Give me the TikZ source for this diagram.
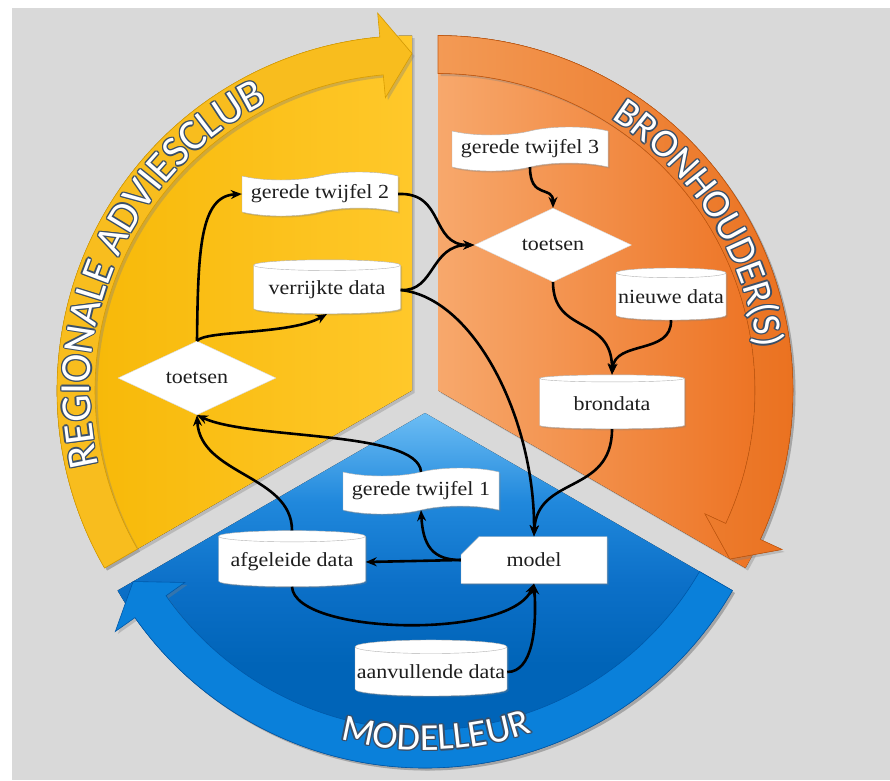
\documentclass[tikz,border=0pt]{standalone}
\usepackage{fontspec}
\setmainfont{Liberation Serif}[FakeStretch=1.1]
\newfontfamily\titlefont{Carlito}
\usetikzlibrary{shapes.geometric,shapes.symbols,shapes.misc,arrows.meta,decorations.text,shadows}
\definecolor{bg}{HTML}{D9D9D9}
\definecolor{ylA}{HTML}{F5B500}
\definecolor{ylB}{HTML}{FFC82A}
\definecolor{ylband}{HTML}{F8BD1E}
\definecolor{ylline}{HTML}{D89C00}
\definecolor{orA}{HTML}{F7A86C}
\definecolor{orB}{HTML}{EC6E1C}
\definecolor{orbandA}{HTML}{F39A55}
\definecolor{orbandB}{HTML}{EA701E}
\definecolor{orline}{HTML}{C85A10}
\definecolor{blA}{HTML}{6CBDF4}
\definecolor{blC}{HTML}{2088DC}
\definecolor{blM}{HTML}{0C70C8}
\definecolor{blB}{HTML}{0064B8}
\definecolor{blband}{HTML}{0A80DA}
\definecolor{blline}{HTML}{0058A8}
\definecolor{glow}{HTML}{3A4F68}
\definecolor{ink}{HTML}{1E1E1E}
\pgfdeclareverticalshading{blueshade}{100bp}{color(0bp)=(blB); color(44bp)=(blB); color(54bp)=(blM); color(64bp)=(blC); color(75bp)=(blA); color(100bp)=(blA)}
\newcommand{\nfont}{\fontsize{20}{23}\selectfont}
\newcommand{\ringlabel}[3]{%
  \foreach \dx/\dy in {1/1,-1/1,1/-1,-1/-1,1.3/0,-1.3/0,0/1.3,0/-1.3}{%
    \path[shift={(\dx,\dy)}, decorate, decoration={text along path, text align=center,
      text={|\titlefont\fontsize{#3}{#3}\selectfont\color{glow}|#2}}] #1;
  }%
  \path[decorate, decoration={text along path, text align=center,
      text={|\titlefont\fontsize{#3}{#3}\selectfont\color{white}|#2}}] #1;
}
\begin{document}
\begin{tikzpicture}[x=1pt,y=1pt,
  tapebox/.style={tape, draw=gray!60, fill=white, minimum width=156pt, minimum height=44pt,
    tape bend height=8pt, inner sep=1pt, font=\nfont, text=ink,
    drop shadow={opacity=0.3, shadow xshift=1.5pt, shadow yshift=-1.5pt}},
  dbbox/.style={cylinder, shape border rotate=90, aspect=0.09, draw=gray!60, fill=white,
    inner sep=1pt, font=\nfont, text=ink,
    drop shadow={opacity=0.3, shadow xshift=1.5pt, shadow yshift=-1.5pt}},
  decision/.style={diamond, fill=white, draw=white!85!black, inner sep=0pt,
    minimum width=158pt, minimum height=60pt, font=\nfont, text=ink},
  modelbox/.style={chamfered rectangle, chamfered rectangle corners=north west,
    chamfered rectangle xsep=28pt, chamfered rectangle ysep=10pt,
    draw=gray!60, fill=white, minimum width=146pt, minimum height=47pt, inner sep=1pt,
    font=\nfont, text=ink,
    drop shadow={opacity=0.3, shadow xshift=1.5pt, shadow yshift=-1.5pt}},
  conn/.style={line width=2.6pt, black, -{Stealth[length=11pt,width=9pt]}},
  sectorshadow/.style={drop shadow={opacity=0.35, shadow xshift=2.5pt, shadow yshift=-2.5pt}}
]
\useasboundingbox (0,0) rectangle (890,-780);
\fill[white] (0,0) rectangle (890,-780);
\fill[bg] (12,-8) rectangle (890,-780);

% ---------- yellow sector (REGIONALE ADVIESCLUB)
\begin{scope}[shift={(412,-390.5)}]
  \fill[sectorshadow, left color=ylA, right color=ylB]
    (0,0) -- (210:355) arc[start angle=210, end angle=90, radius=355] -- cycle;
  \filldraw[sectorshadow, fill=ylband, draw=ylline, line width=0.6pt]
    (210:317) -- (210:355) arc[start angle=210, end angle=95.2, radius=355]
    -- (95.2:379) -- (90:337) -- (95.2:294) -- (95.2:317)
    arc[start angle=95.2, end angle=210, radius=317] -- cycle;
\end{scope}

% ---------- orange sector (BRONHOUDER(S))
\begin{scope}[shift={(438,-390.5)}]
  \fill[sectorshadow, left color=orA, right color=orB]
    (0,0) -- (90:355) arc[start angle=90, end angle=-30, radius=355] -- cycle;
  \filldraw[sectorshadow, left color=orbandA, right color=orbandB, draw=orline, line width=0.6pt]
    (90:317) -- (90:355) arc[start angle=90, end angle=-24.8, radius=355]
    -- (-24.8:379) -- (-30:337) -- (-24.8:294) -- (-24.8:317)
    arc[start angle=-24.8, end angle=90, radius=317] -- cycle;
\end{scope}

% ---------- blue sector (MODELLEUR)
\begin{scope}[shift={(425,-413)}]
  \fill[sectorshadow, shading=blueshade]
    (0,0) -- (210:355) arc[start angle=210, end angle=330, radius=355] -- cycle;
  \filldraw[sectorshadow, fill=blband, draw=blline, line width=0.6pt]
    (330:317) -- (330:355) arc[start angle=330, end angle=215.2, radius=355]
    -- (215.2:379) -- (210:337) -- (215.2:294) -- (215.2:317)
    arc[start angle=215.2, end angle=330, radius=317] -- cycle;
\end{scope}

% ---------- ring labels
\ringlabel{(412,-390.5) ++(205:322) arc[start angle=205, end angle=105, radius=322]}{REGIONALE ADVIESCLUB}{43}
\ringlabel{(438,-390.5) ++(75:322) arc[start angle=75, end angle=-10, radius=322]}{BRONHOUDER(S)}{40}
\ringlabel{(425,-413) ++(245:337) arc[start angle=245, end angle=299, radius=337]}{MODELLEUR}{38}

% ---------- nodes
\node[tapebox] (gt2) at (320,-194) {gerede twijfel 2};
\node[dbbox, minimum width=147pt, minimum height=54pt] (vd) at (327,-290) {verrijkte data};
\node[decision] (tL) at (197,-378) {toetsen};
\node[tapebox] (gt3) at (530,-149) {gerede twijfel 3};
\node[decision, minimum width=157pt, minimum height=56pt] (tR) at (553,-245) {toetsen};
\node[dbbox, minimum width=110pt, minimum height=52pt] (nd) at (671,-297) {nieuwe data};
\node[dbbox, minimum width=145pt, minimum height=54pt] (bd) at (612,-404) {brondata};
\node[tapebox, minimum height=46pt] (gt1) at (421,-491) {gerede twijfel 1};
\node[modelbox] (model) at (534,-560) {model};
\node[dbbox, minimum width=147pt, minimum height=56pt] (ad) at (292,-562) {afgeleide data};
\node[dbbox, minimum width=152pt, minimum height=56pt] (av) at (431,-672) {aanvullende data};

% ---------- connectors
\draw[conn] (tL.north) .. controls (198,-250) and (200,-196) .. (gt2.west);
\draw[conn] (tL.north) .. controls (205,-330) and (290,-335) .. (vd.south);
\draw[conn] (gt2.east) .. controls (445,-192) and (430,-245) .. (tR.west);
\draw[conn] (vd.east) .. controls (435,-292) and (430,-245) .. (tR.west);
\draw[conn] (vd.east) .. controls (475,-298) and (535,-420) .. (model.north);
\draw[conn] (gt3.south) .. controls (530,-200) and (553,-185) .. (tR.north);
\draw[conn] (tR.south) .. controls (553,-335) and (612,-315) .. (bd.north);
\draw[conn] (nd.south) .. controls (672,-355) and (615,-340) .. (bd.north);
\draw[conn] (bd.south) .. controls (612,-495) and (537,-475) .. (model.north);
\draw[conn] (model.west) -- (ad.east);
\draw[conn] (model.west) .. controls (432,-560) and (423,-545) .. (gt1.south);
\draw[conn] (gt1.north) .. controls (418,-430) and (250,-440) .. (tL.south);
\draw[conn] (ad.north) .. controls (292,-475) and (200,-475) .. (tL.south);
\draw[conn] (ad.south) .. controls (295,-635) and (510,-640) .. (model.south);
\draw[conn] (av.east) .. controls (532,-672) and (537,-630) .. (model.south);
\end{tikzpicture}
\end{document}
